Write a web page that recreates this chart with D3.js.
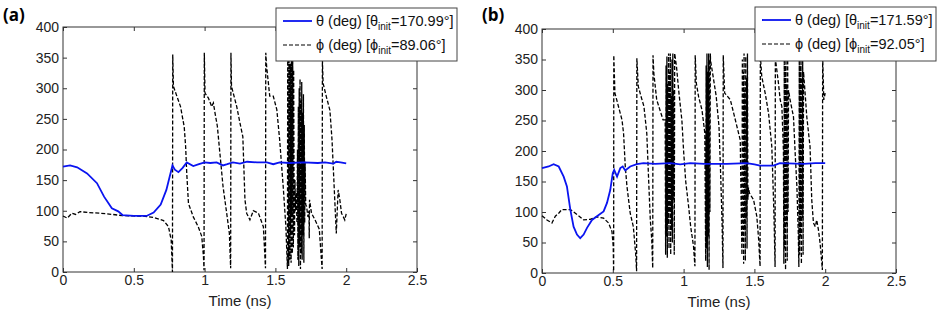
<!DOCTYPE html>
<html>
<head>
<meta charset="utf-8">
<script src="https://cdn.jsdelivr.net/npm/d3@7"></script>
<style>
  body { margin: 0; background: #fff; }
  svg { font-family: 'Liberation Sans', Arial, sans-serif; }
  .tick text { font-family: 'Liberation Sans', Arial, sans-serif; font-size: 14px; fill: #222; }
  .tick line { stroke: #333; }
</style>
</head>
<body>
<div id="chart"></div>
<script>
// time axis ticks (ns) and angle ticks (deg)
const xTicks = [0, 0.5, 1, 1.5, 2, 2.5];
const yTicks = [0, 50, 100, 150, 200, 250, 300, 350, 400];
const xLabel = 'Time (ns)';
const panelLabels = ['(a)', '(b)'];
const thetaInit = ['170.99', '171.59'];
const phiInit = ['89.06', '92.05'];

// panel (a) : [time ns, deg]
const thetaA = [
  [0, 172], [0.02, 173], [0.05, 174], [0.1, 171], [0.17, 161], [0.24, 145], [0.29, 123],
  [0.345, 104], [0.39, 99], [0.42, 93], [0.5, 91.5], [0.59, 91.5], [0.64, 97], [0.69, 110],
  [0.73, 134], [0.773, 174], [0.79, 167], [0.815, 163], [0.845, 170], [0.874, 179], [0.92, 173],
  [0.96, 176], [1.0, 179], [1.04, 178], [1.085, 179], [1.13, 174], [1.16, 176], [1.2, 179],
  [1.25, 177], [1.3, 180], [1.37, 179], [1.44, 179], [1.485, 176], [1.53, 179], [1.6, 178],
  [1.7, 179], [1.8, 178], [1.85, 179], [1.91, 177], [1.93, 180], [1.96, 179], [2.0, 177.5]
];

const phiA = [
  [0, 91.5], [0.03, 88], [0.063, 96], [0.09, 94], [0.12, 98.6], [0.18, 97], [0.26, 96],
  [0.35, 94], [0.42, 92], [0.5, 91.5], [0.58, 91], [0.64, 89], [0.71, 84], [0.745, 74],
  [0.764, 52], [0.773, 0],
  [0.775, 355], [0.78, 303], [0.83, 270], [0.856, 237], [0.866, 205], [0.874, 161], [0.886, 112],
  [0.92, 90], [0.955, 74], [0.98, 58], [0.992, 25], [0.996, 3],
  [0.998, 358], [1.003, 292], [1.027, 284], [1.05, 270], [1.062, 276], [1.074, 259], [1.09, 238],
  [1.11, 189], [1.13, 140], [1.156, 96], [1.175, 63], [1.184, 6],
  [1.186, 358], [1.19, 303], [1.227, 270], [1.25, 243], [1.27, 221], [1.285, 118], [1.297, 96],
  [1.32, 85], [1.344, 100], [1.38, 96], [1.415, 74], [1.43, 6],
  [1.432, 358], [1.438, 336], [1.46, 287], [1.485, 287], [1.51, 265], [1.53, 216], [1.555, 140],
  [1.574, 74], [1.585, 5],
  [1.587, 360], [1.592, 200], [1.594, 10], [1.596, 355], [1.6, 120], [1.602, 20], [1.604, 340],
  [1.607, 60], [1.609, 300], [1.611, 15], [1.613, 350], [1.616, 90], [1.618, 260], [1.62, 30],
  [1.622, 360], [1.625, 150], [1.627, 40], [1.629, 330], [1.632, 110], [1.635, 60], [1.638, 150],
  [1.642, 100], [1.648, 130], [1.652, 80],
  [1.656, 200], [1.659, 20], [1.662, 270], [1.665, 10], [1.668, 300], [1.671, 40], [1.674, 315],
  [1.677, 5], [1.68, 280], [1.683, 30], [1.686, 310], [1.689, 20], [1.692, 260], [1.695, 60],
  [1.698, 290], [1.701, 15], [1.704, 240], [1.707, 80], [1.71, 180], [1.714, 110], [1.72, 107],
  [1.73, 90], [1.737, 100], [1.739, 55], [1.741, 118], [1.755, 96], [1.78, 85], [1.81, 70],
  [1.825, 20], [1.83, 5],
  [1.832, 346], [1.837, 308], [1.86, 286], [1.885, 264], [1.9, 215], [1.915, 139], [1.93, 63],
  [1.943, 134], [1.955, 118], [1.967, 96], [1.98, 90], [1.99, 85], [2.0, 95]
];

// panel (b)
const thetaB = [
  [0, 172], [0.047, 174.6], [0.082, 178.4], [0.118, 174.6], [0.153, 158], [0.176, 142], [0.2, 104],
  [0.223, 76], [0.247, 63], [0.27, 57], [0.294, 63], [0.318, 74], [0.353, 87], [0.388, 93],
  [0.435, 101], [0.459, 115], [0.482, 136], [0.5, 164], [0.51, 169], [0.53, 158], [0.553, 172],
  [0.57, 174.6], [0.588, 168], [0.623, 174.6], [0.67, 178.4], [0.717, 180], [0.8, 179],
  [0.905, 180], [0.976, 178], [1.047, 180], [1.15, 179], [1.305, 179], [1.446, 180], [1.5, 178],
  [1.54, 176], [1.635, 176], [1.68, 180], [1.846, 179], [1.93, 180], [2.0, 180]
];

const phiB = [
  [0, 94], [0.035, 87], [0.07, 82], [0.094, 93], [0.118, 98], [0.14, 104], [0.2, 104],
  [0.247, 96], [0.294, 87], [0.34, 88], [0.388, 92], [0.435, 90], [0.47, 82], [0.494, 68],
  [0.503, 44], [0.506, 3],
  [0.507, 357], [0.515, 295], [0.54, 273], [0.565, 251], [0.576, 229], [0.588, 175], [0.6, 142],
  [0.623, 98], [0.645, 76], [0.662, 30], [0.668, 3],
  [0.67, 352], [0.68, 306], [0.7, 289], [0.72, 273], [0.74, 229], [0.755, 142], [0.765, 87],
  [0.775, 55], [0.782, 8],
  [0.784, 357], [0.79, 327], [0.81, 284], [0.84, 262], [0.855, 251],
  [0.87, 251], [0.873, 30], [0.876, 340], [0.879, 60], [0.882, 355], [0.885, 25], [0.888, 310],
  [0.891, 80], [0.894, 360], [0.897, 40], [0.9, 330], [0.903, 100], [0.906, 360], [0.909, 30],
  [0.912, 290], [0.915, 70], [0.918, 350], [0.921, 50], [0.924, 360], [0.927, 120], [0.93, 300],
  [0.934, 30], [0.937, 360], [0.95, 338], [0.965, 300], [0.988, 250], [1.0, 200], [1.015, 150],
  [1.035, 110], [1.05, 76], [1.07, 44], [1.08, 11],
  [1.082, 357], [1.09, 311], [1.106, 289], [1.13, 267], [1.15, 229],
  [1.156, 20], [1.159, 340], [1.162, 40], [1.165, 360], [1.168, 10], [1.171, 330], [1.174, 60],
  [1.177, 360], [1.18, 5], [1.183, 350], [1.186, 100], [1.189, 360],
  [1.19, 349], [1.21, 320], [1.23, 290], [1.25, 240], [1.262, 160], [1.272, 80], [1.278, 8],
  [1.28, 357], [1.29, 295], [1.33, 284], [1.36, 256], [1.4, 218],
  [1.412, 30], [1.415, 350], [1.418, 50], [1.421, 330], [1.424, 15], [1.427, 360], [1.43, 70],
  [1.433, 300], [1.436, 20], [1.439, 355], [1.442, 90], [1.445, 320], [1.448, 40], [1.451, 360],
  [1.454, 120], [1.458, 140], [1.465, 131], [1.494, 120], [1.517, 93], [1.53, 55], [1.54, 11],
  [1.542, 357], [1.552, 322], [1.576, 295], [1.6, 262], [1.623, 207], [1.635, 120], [1.64, 76],
  [1.646, 10],
  [1.648, 352], [1.67, 311], [1.682, 284], [1.694, 273], [1.705, 200], [1.708, 15], [1.711, 350],
  [1.714, 40], [1.717, 340], [1.72, 5], [1.723, 360], [1.726, 80], [1.729, 310], [1.732, 20],
  [1.735, 360], [1.738, 100], [1.741, 300],
  [1.752, 284], [1.776, 256], [1.788, 196], [1.8, 142], [1.81, 65], [1.814, 10], [1.817, 355],
  [1.82, 30], [1.823, 340], [1.826, 60], [1.829, 360], [1.832, 15], [1.835, 320], [1.838, 90],
  [1.841, 360], [1.844, 30], [1.847, 330],
  [1.858, 295], [1.87, 256], [1.893, 207], [1.905, 120], [1.917, 82], [1.93, 76], [1.94, 87],
  [1.952, 71], [1.964, 49], [1.976, 16], [1.98, 5],
  [1.982, 357], [1.987, 311], [1.99, 284], [2.0, 295]
];

const width = 941;
const height = 312;

const panels = [
  { label: panelLabels[0], theta: thetaA, phi: phiA, th0: thetaInit[0], ph0: phiInit[0],
    left: 63, right: 417, top: 27, bottom: 272, labelX: 3,
    legend: { x: 276, y: 8, w: 181, h: 53 } },
  { label: panelLabels[1], theta: thetaB, phi: phiB, th0: thetaInit[1], ph0: phiInit[1],
    left: 542, right: 896, top: 29, bottom: 273, labelX: 482,
    legend: { x: 755, y: 7, w: 181, h: 54 } }
];

const svg = d3.select('#chart').append('svg')
  .attr('width', width)
  .attr('height', height);

panels.forEach((p) => {
  const x = d3.scaleLinear().domain([0, 2.5]).range([p.left, p.right]);
  const y = d3.scaleLinear().domain([0, 400]).range([p.bottom, p.top]);

  const g = svg.append('g');

  // MATLAB style axes: ticks point inward on all four sides
  g.append('g')
    .attr('transform', `translate(0,${p.bottom})`)
    .call(d3.axisBottom(x).tickValues(xTicks).tickFormat(d3.format('')).tickSizeInner(-4).tickSizeOuter(0).tickPadding(3))
    .call((a) => a.select('.domain').remove());
  g.append('g')
    .attr('transform', `translate(0,${p.top})`)
    .call(d3.axisTop(x).tickValues(xTicks).tickFormat('').tickSizeInner(-4).tickSizeOuter(0))
    .call((a) => a.select('.domain').remove());
  g.append('g')
    .attr('transform', `translate(${p.left},0)`)
    .call(d3.axisLeft(y).tickValues(yTicks).tickSizeInner(-4).tickSizeOuter(0).tickPadding(4))
    .call((a) => a.select('.domain').remove());
  g.append('g')
    .attr('transform', `translate(${p.right},0)`)
    .call(d3.axisRight(y).tickValues(yTicks).tickFormat('').tickSizeInner(-4).tickSizeOuter(0))
    .call((a) => a.select('.domain').remove());

  g.append('rect')
    .attr('x', p.left)
    .attr('y', p.top)
    .attr('width', p.right - p.left)
    .attr('height', p.bottom - p.top)
    .style('fill', 'none')
    .style('stroke', '#333')
    .style('stroke-width', 1);

  const line = d3.line()
    .x((d) => x(d[0]))
    .y((d) => y(d[1]));

  g.append('path')
    .datum(p.phi)
    .attr('d', line)
    .style('fill', 'none')
    .style('stroke', '#000')
    .style('stroke-width', 1.3)
    .style('stroke-dasharray', '4,2');

  g.append('path')
    .datum(p.theta)
    .attr('d', line)
    .style('fill', 'none')
    .style('stroke', '#0a14f0')
    .style('stroke-width', 1.8);

  g.append('text')
    .attr('x', (p.left + p.right) / 2)
    .attr('y', p.bottom + 34)
    .attr('text-anchor', 'middle')
    .style('font-size', '15px')
    .style('fill', '#222')
    .text(xLabel);

  g.append('text')
    .attr('x', p.labelX)
    .attr('y', 21)
    .style('font-family', "'Open Sans', 'DejaVu Sans', sans-serif")
    .style('font-size', '17px')
    .style('font-weight', 'bold')
    .text(p.label);

  // legend
  const lg = g.append('g').attr('transform', `translate(${p.legend.x},${p.legend.y})`);
  lg.append('rect')
    .attr('width', p.legend.w)
    .attr('height', p.legend.h)
    .style('fill', '#fff')
    .style('stroke', '#444')
    .style('stroke-width', 1);

  const rows = [
    { sym: '\u03b8', val: p.th0, color: '#0a14f0', dash: null, w: 1.8, yy: 13 },
    { sym: '\u03d5', val: p.ph0, color: '#000', dash: '4,2', w: 1.2, yy: 37 }
  ];
  rows.forEach((r) => {
    lg.append('line')
      .attr('x1', 7).attr('x2', 36)
      .attr('y1', r.yy).attr('y2', r.yy)
      .style('stroke', r.color)
      .style('stroke-width', r.w)
      .style('stroke-dasharray', r.dash);
    const t = lg.append('text')
      .attr('x', 40)
      .attr('y', r.yy + 5)
      .style('font-size', '14.5px')
      .style('fill', '#111');
    t.append('tspan').text(`${r.sym} (deg) [${r.sym}`);
    t.append('tspan').attr('dy', 4).style('font-size', '10px').text('init');
    t.append('tspan').attr('dy', -4).text(`=${r.val}\u00b0]`);
  });
});
</script>
</body>
</html>
